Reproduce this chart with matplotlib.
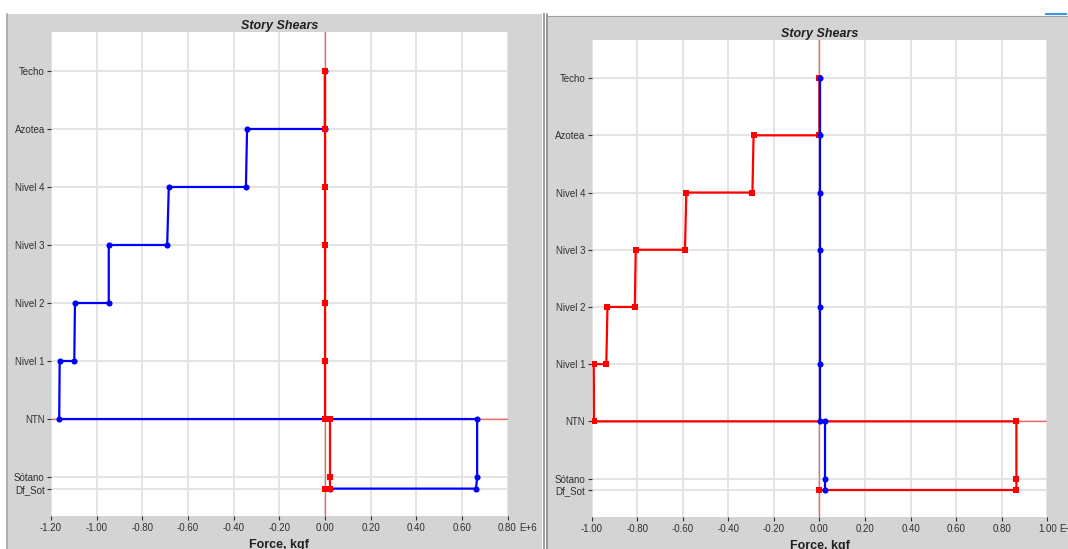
#!/usr/bin/env python

import matplotlib
matplotlib.use("Agg")
import matplotlib.pyplot as plt
from matplotlib.patches import Rectangle
from matplotlib.lines import Line2D

plt.rcParams["font.family"] = ["Liberation Sans", "DejaVu Sans"]

# story levels and their elevations (m)
levels = ["Techo", "Azotea", "Nivel 4", "Nivel 3", "Nivel 2", "Nivel 1", "NTN", "Sótano", "Df_Sot"]
elev = [15.0, 12.0, 9.0, 6.0, 3.0, 0.0, -3.0, -6.0, -6.6]

# left diagram: shear in X (blue) and Y (red), E+6 kgf
# each vertex is (value, level it sits on)
left_blue_x = [0.0, 0.0, -0.341, -0.346, -0.684, -0.691, -0.947, -0.947,
               -1.095, -1.098, -1.162, -1.164, 0.667, 0.667, 0.662, 0.021]
left_blue_lv = ["Techo", "Azotea", "Azotea", "Nivel 4", "Nivel 4", "Nivel 3", "Nivel 3", "Nivel 2",
                "Nivel 2", "Nivel 1", "Nivel 1", "NTN", "NTN", "Sótano", "Df_Sot", "Df_Sot"]
left_red_x = [0.0, 0.0, 0.0, 0.0, 0.0, 0.0, 0.0, 0.021, 0.021, 0.021, 0.0]
left_red_lv = ["Techo", "Azotea", "Nivel 4", "Nivel 3", "Nivel 2", "Nivel 1", "NTN",
               "NTN", "Sótano", "Df_Sot", "Df_Sot"]

# right diagram: shear in Y (red) and X (blue), E+6 kgf
right_red_x = [0.0, 0.0, -0.289, -0.294, -0.584, -0.590, -0.806, -0.810,
               -0.930, -0.935, -0.990, -0.989, 0.864, 0.864, 0.864, -0.002]
right_red_lv = ["Techo", "Azotea", "Azotea", "Nivel 4", "Nivel 4", "Nivel 3", "Nivel 3", "Nivel 2",
                "Nivel 2", "Nivel 1", "Nivel 1", "NTN", "NTN", "Sótano", "Df_Sot", "Df_Sot"]
right_blue_x = [0.002, 0.002, 0.002, 0.002, 0.002, 0.002, 0.002, 0.023, 0.023, 0.023]
right_blue_lv = ["Techo", "Azotea", "Nivel 4", "Nivel 3", "Nivel 2", "Nivel 1", "NTN",
                 "NTN", "Sótano", "Df_Sot"]

left_xticks = [-1.2, -1.0, -0.8, -0.6, -0.4, -0.2, 0.0, 0.2, 0.4, 0.6, 0.8]
right_xticks = [-1.0, -0.8, -0.6, -0.4, -0.2, 0.0, 0.2, 0.4, 0.6, 0.8, 1.0]

W, H = 1068, 549
z_of = dict(zip(levels, elev))
PANEL = "#d4d4d4"
GRID = "#e4e4e4"
TXT = "#303030"

fig = plt.figure(figsize=(W / 100, H / 100), dpi=100)
fig.patch.set_facecolor("white")

# window frames behind the two diagrams
fig.patches.append(Rectangle((6 / W, 0), (542 - 6) / W, (H - 14) / H,
                             transform=fig.transFigure, facecolor=PANEL, edgecolor="none", zorder=-2))
fig.patches.append(Rectangle((546 / W, 0), (W - 546) / W, (H - 16) / H,
                             transform=fig.transFigure, facecolor=PANEL, edgecolor="none", zorder=-2))
for xp, c in [(6.5, "#a8a8a8"), (544, "#8c8c8c"), (546.5, "#8c8c8c")]:
    fig.lines.append(Line2D([xp / W, xp / W], [0, (H - 14) / H], transform=fig.transFigure,
                            color=c, lw=1.2, zorder=-1))
fig.lines.append(Line2D([546 / W, 1], [(H - 16) / H, (H - 16) / H], transform=fig.transFigure,
                        color="#a0a0a0", lw=0.8, zorder=-1))
fig.lines.append(Line2D([1046 / W, 1066 / W], [(H - 14) / H, (H - 14) / H], transform=fig.transFigure,
                        color="#3a96e8", lw=1.5, zorder=-1))


def story_plot(ax, xticks, xlim, first, second):
    ax.set_facecolor("white")
    ax.set_xlim(*xlim)
    ax.set_ylim(-8.0, 17.0)
    for s in ax.spines.values():
        s.set_visible(False)

    ax.set_xticks(xticks)
    ax.set_xticklabels(["{:.2f}".format(v) for v in xticks])
    ax.set_yticks(elev)
    ax.set_yticklabels(levels)
    ax.tick_params(axis="both", labelsize=7, colors=TXT, length=3, width=0.8, pad=2)
    ax.tick_params(axis="y", pad=1.5)
    ax.grid(True, color=GRID, lw=1.4, zorder=0)
    ax.set_axisbelow(True)

    # zero axis and ground line
    ax.axvline(0.0, color="#ff0000", lw=1.0, alpha=0.55, zorder=2)
    ax.axhline(z_of["NTN"], color="#ff0000", lw=1.0, alpha=0.55, zorder=2)

    for xs, lvs, color, marker, ms in (first, second):
        ax.plot(xs, [z_of[l] for l in lvs], color=color, lw=1.6, marker=marker,
                markersize=ms, markeredgewidth=0, zorder=3)

    ax.set_title("Story Shears", fontsize=9, fontweight="bold", fontstyle="italic",
                 color="#202020", pad=2.5)
    ax.set_xlabel("Force, kgf", fontsize=9, fontweight="bold", color="#202020", labelpad=4.5)
    # exponent printed after the last tick value
    ax.annotate("E+6", xy=(1, 0), xycoords="axes fraction", xytext=(8.5, -8.8),
                textcoords="offset points", fontsize=7, color=TXT, ha="left", va="center")


ax1 = fig.add_axes([51 / W, (H - 515.7) / H, 456.5 / W, 483.4 / H])
story_plot(ax1, left_xticks, (-1.2, 0.8),
           (left_blue_x, left_blue_lv, "#0000ff", "o", 4.4),
           (left_red_x, left_red_lv, "#ff0000", "s", 4.0))

ax2 = fig.add_axes([591.5 / W, (H - 516.7) / H, 455.9 / W, 476.7 / H])
story_plot(ax2, right_xticks, (-1.0, 1.0),
           (right_red_x, right_red_lv, "#ff0000", "s", 4.0),
           (right_blue_x, right_blue_lv, "#0000ff", "o", 4.4))

fig.savefig("out.png", dpi=100)
